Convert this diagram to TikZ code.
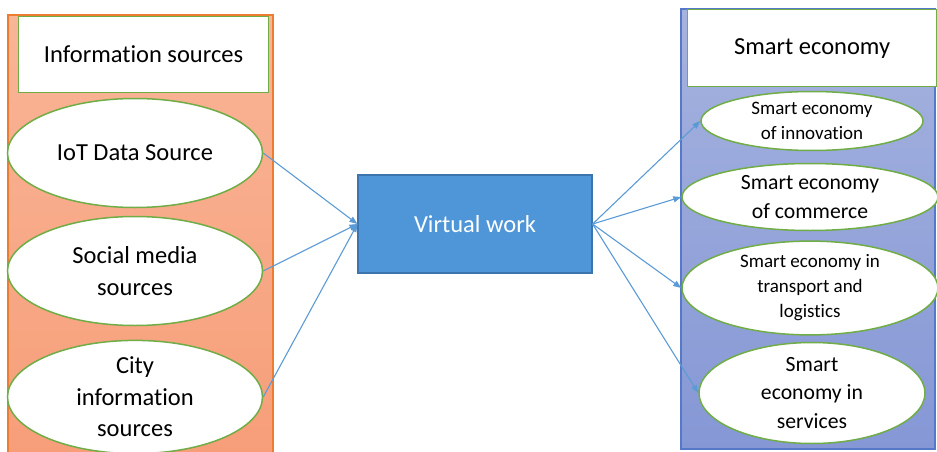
\documentclass[tikz,border=0pt]{standalone}
\usepackage{fontspec}
\setmainfont{Carlito}[Ligatures=CommonOff]
\usetikzlibrary{shapes.geometric,arrows.meta}
\definecolor{leftTop}{HTML}{F8B597}
\definecolor{leftBot}{HTML}{F79E79}
\definecolor{leftBorder}{HTML}{ED7D31}
\definecolor{rightTop}{HTML}{A6B3DF}
\definecolor{rightBot}{HTML}{8597D5}
\definecolor{rightBorder}{HTML}{5578C8}
\definecolor{greenline}{HTML}{70AD47}
\definecolor{vwfill}{HTML}{4E96D8}
\definecolor{vwborder}{HTML}{3C74AE}
\definecolor{conn}{HTML}{5B9BD5}
\tikzset{
  titlebox/.style={draw=greenline, line width=1.2pt, fill=white, inner sep=0pt, anchor=north west},
  oval/.style={ellipse, draw=greenline, line width=1.5pt, fill=white, inner sep=0pt, align=center},
  bigtxt/.style={font=\fontsize{24.5}{31.5}\selectfont},
  medtxt/.style={font=\fontsize{21.7}{28.3}\selectfont},
  smalltxt/.style={font=\fontsize{19}{25}\selectfont},
  conn/.style={draw=conn, line width=1.1pt, -{Triangle[length=8pt,width=6pt]}}
}
\begin{document}
\begin{tikzpicture}[x=1pt,y=-1pt]
\useasboundingbox (0,0) rectangle (937,452);
% panels
\shade[top color=leftTop, bottom color=leftBot] (8,15) rectangle (273,454);
\draw[leftBorder, line width=1.3pt] (8,454) -- (8,15) -- (273,15) -- (273,454);
\shade[top color=rightTop, bottom color=rightBot] (681,9) rectangle (935,449);
\draw[rightBorder, line width=1.5pt] (681,9) rectangle (935,449);
% titles
\node[titlebox, minimum width=250pt, minimum height=76pt] (ltitle) at (18,16) {};
\node[bigtxt] at (ltitle.center) {Information sources};
\node[titlebox, minimum width=249pt, minimum height=77pt] (rtitle) at (687,9) {};
\node[bigtxt] at (rtitle.center) {Smart economy};
% left ovals
\node[oval, bigtxt, minimum width=255pt, minimum height=109pt] (iot) at (135,153) {IoT Data Source};
\node[oval, bigtxt, minimum width=255pt, minimum height=109pt] (soc) at (135,271) {Social media\\sources};
\node[oval, bigtxt, minimum width=255pt, minimum height=110pt] (city) at (135,397) {City\\information\\sources};
% center
\node[draw=vwborder, line width=1.2pt, fill=vwfill, text=white, bigtxt, minimum width=234pt, minimum height=98pt, inner sep=0pt] (vw) at (475,224) {Virtual work};
% right ovals
\node[oval, smalltxt, minimum width=222pt, minimum height=59pt] (inn) at (812,121) {Smart economy\\of innovation};
\node[oval, medtxt, minimum width=256pt, minimum height=67pt] (com) at (810,197) {Smart economy\\of commerce};
\node[oval, smalltxt, minimum width=256pt, minimum height=81pt] (tra) at (810,288) {Smart economy in\\transport and\\logistics};
\node[oval, medtxt, minimum width=226pt, minimum height=101pt] (ser) at (812,393) {Smart\\economy in\\services};
% connectors
\draw[conn] (iot.east) -- (vw.west);
\draw[conn] (soc.east) -- (vw.west);
\draw[conn] (city.east) -- (vw.west);
\draw[conn] (vw.east) -- (inn.west);
\draw[conn] (vw.east) -- (com.west);
\draw[conn] (vw.east) -- (tra.west);
\draw[conn] (vw.east) -- (ser.west);
\end{tikzpicture}
\end{document}
